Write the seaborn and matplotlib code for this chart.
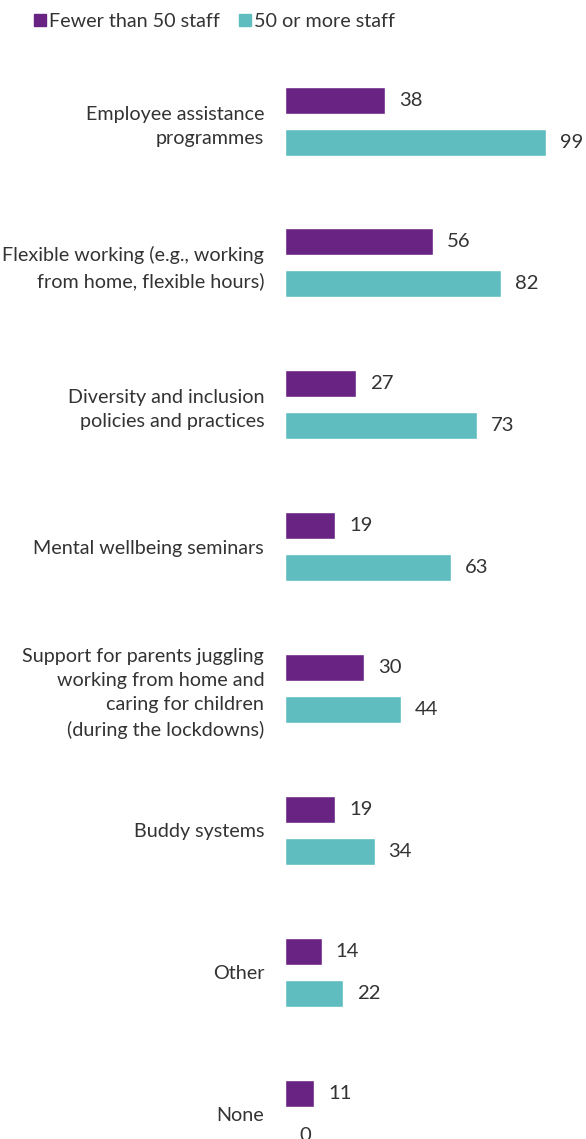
import matplotlib
matplotlib.use("Agg")
import matplotlib.pyplot as plt
import seaborn as sns
import pandas as pd
from matplotlib.lines import Line2D

categories = [
    "Employee assistance\nprogrammes",
    "Flexible working (e.g., working\nfrom home, flexible hours)",
    "Diversity and inclusion\npolicies and practices",
    "Mental wellbeing seminars",
    "Support for parents juggling\nworking from home and\ncaring for children\n(during the lockdowns)",
    "Buddy systems",
    "Other",
    "None",
]
series_names = ["Fewer than 50 staff", "50 or more staff"]
small_values = [38, 56, 27, 19, 30, 19, 14, 11]
large_values = [99, 82, 73, 63, 44, 34, 22, 0]
colors = ["#692483", "#5fbdbf"]

df = pd.DataFrame({
    "category": categories * 2,
    "series": [series_names[0]] * len(categories) + [series_names[1]] * len(categories),
    "value": small_values + large_values,
})

sns.set_theme(style="white")
plt.rcParams["font.family"] = ["Lato", "DejaVu Sans"]
text_color = "#333333"
fs = 14.2

W, H = 586, 1139
fig = plt.figure(figsize=(W / 100, H / 100), dpi=100)
left = 285 / W
ax = fig.add_axes([left, 0, 1 - left, 1])

sns.barplot(data=df, y="category", x="value", hue="series", order=categories,
            hue_order=series_names, palette=colors, orient="h",
            width=0.592, gap=0.357, ax=ax, legend=False, saturation=1)

for cont in ax.containers:
    ax.bar_label(cont, fmt="%d", padding=10, fontsize=14.6, color=text_color)

ax.set_xlim(0, 114.2)
ax.set_ylim(7.176, -0.853)
ax.set_xlabel("")
ax.set_ylabel("")
ax.set_xticks([])
for s in ax.spines.values():
    s.set_visible(False)
ax.tick_params(axis="y", length=0, pad=15, labelsize=fs, labelcolor=text_color)
for lab in ax.get_yticklabels():
    lab.set_linespacing(1.5)
    lab.set_horizontalalignment("right")
    lab.set_multialignment("right")

handles = [Line2D([0], [0], marker="s", linestyle="", markersize=9,
                  markerfacecolor=c, markeredgecolor=c) for c in colors]
fig.legend(handles, series_names, loc="upper left", bbox_to_anchor=(0.037, 1.0),
           ncol=2, frameon=False, fontsize=fs, handlelength=0.6,
           handletextpad=0.15, columnspacing=0.95, labelcolor=text_color,
           borderaxespad=0.25)

fig.savefig("out.png", dpi=100)
